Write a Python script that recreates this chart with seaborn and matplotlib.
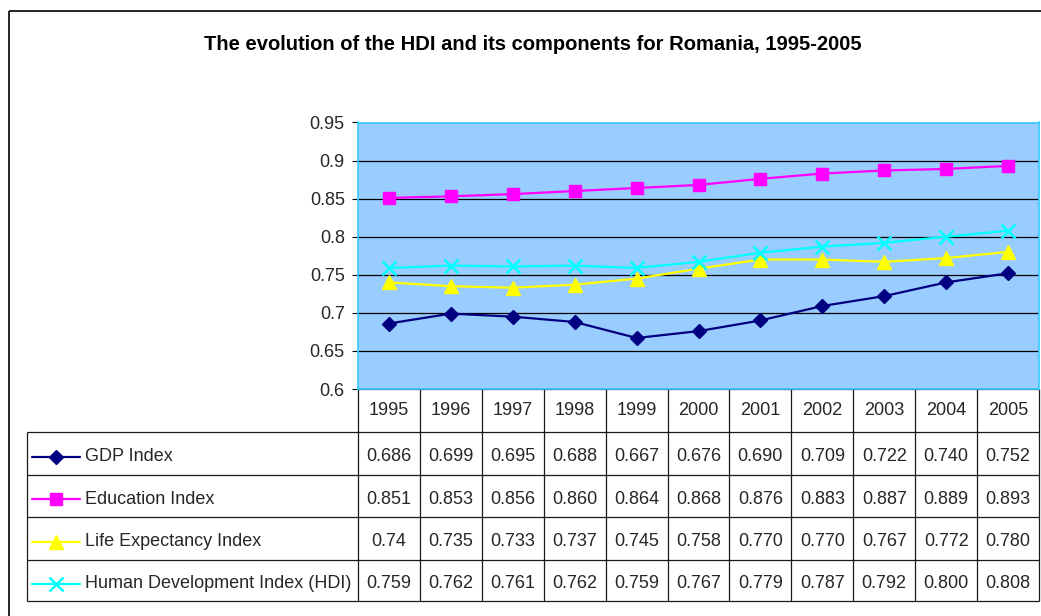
import numpy as np
import pandas as pd
import seaborn as sns
import matplotlib.pyplot as plt
from matplotlib.patches import Rectangle

years = ["1995", "1996", "1997", "1998", "1999", "2000", "2001", "2002", "2003", "2004", "2005"]
gdp_txt = ["0.686", "0.699", "0.695", "0.688", "0.667", "0.676", "0.690", "0.709", "0.722", "0.740", "0.752"]
edu_txt = ["0.851", "0.853", "0.856", "0.860", "0.864", "0.868", "0.876", "0.883", "0.887", "0.889", "0.893"]
life_txt = ["0.74", "0.735", "0.733", "0.737", "0.745", "0.758", "0.770", "0.770", "0.767", "0.772", "0.780"]
hdi_txt = ["0.759", "0.762", "0.761", "0.762", "0.759", "0.767", "0.779", "0.787", "0.792", "0.800", "0.808"]
series_names = ["GDP Index", "Education Index", "Life Expectancy Index", "Human Development Index (HDI)"]
y_ticks = [0.6, 0.65, 0.7, 0.75, 0.8, 0.85, 0.9, 0.95]
y_tick_labels = ["0.6", "0.65", "0.7", "0.75", "0.8", "0.85", "0.9", "0.95"]
title = "The evolution of the HDI and its components for Romania, 1995-2005"

series_txt = [gdp_txt, edu_txt, life_txt, hdi_txt]
colors = ["#000080", "#FF00FF", "#FFFF00", "#00FFFF"]
markers = ["D", "s", "^", "x"]
msizes = [7.5, 8, 10, 10]

sns.set_style("white")
plt.rcParams["font.family"] = ["Liberation Sans", "DejaVu Sans"]

W, H = 1041, 616
fig = plt.figure(figsize=(W / 100, H / 100), dpi=100)

# plot area (pixel layout)
px_left, px_right, px_top, px_bot = 358, 1039, 122.5, 389
ax = fig.add_axes([px_left / W, 1 - px_bot / H, (px_right - px_left) / W, (px_bot - px_top) / H])
ax.set_facecolor("#99CCFF")

n = len(years)
x = np.arange(n)
for txt, c, m, ms in zip(series_txt, colors, markers, msizes):
    vals = [float(v) for v in txt]
    sns.lineplot(x=x, y=vals, ax=ax, color=c, marker=m, markersize=ms,
                 markeredgecolor=c, markeredgewidth=1.8 if m == "x" else 1,
                 linewidth=1.6, legend=False, zorder=3)

ax.set_xlim(-0.5, n - 0.5)
ax.set_ylim(0.6, 0.95)
ax.set_yticks(y_ticks)
ax.set_yticklabels(y_tick_labels)
ax.set_xticks([])
ax.set_xlabel("")
ax.set_ylabel("")
ax.yaxis.grid(True, color="black", linewidth=0.9)
ax.set_axisbelow(True)
ax.tick_params(axis="y", length=4.5, width=0.8, color="black", pad=5, labelsize=13, left=True)
for s in ax.spines.values():
    s.set_color("#33CCFF")
    s.set_linewidth(1.2)

fig.text(533 / W, 1 - 45 / H, title, ha="center", va="center", fontsize=14.5, fontweight="bold",
         color="black")

# data table drawn in pixel coords
tab = fig.add_axes([0, 0, 1, 1], zorder=-1)
tab.set_xlim(0, W)
tab.set_ylim(H, 0)
tab.set_axis_off()

tab.add_patch(Rectangle((8.5, 10.5), 1200, 800, fill=False, edgecolor="black", lw=1.2))

row_edges = [389, 432, 475, 517, 560, 601]
lab_left = 27
cw = (px_right - px_left) / n
lc = "#1a1a1a"
for k in range(n + 1):
    tab.vlines(px_left + k * cw, row_edges[0], row_edges[-1], color=lc, lw=0.9)
tab.vlines(lab_left, row_edges[1], row_edges[-1], color=lc, lw=0.9)
tab.hlines(row_edges[0], px_left, px_right, color=lc, lw=0.9)
for y in row_edges[1:]:
    tab.hlines(y, lab_left, px_right, color=lc, lw=0.9)

yc = (row_edges[0] + row_edges[1]) / 2
for k, yr in enumerate(years):
    tab.text(px_left + (k + 0.5) * cw, yc, yr, ha="center", va="center", fontsize=13)

for r, (name, txt, c, m, ms) in enumerate(zip(series_names, series_txt, colors, markers, msizes)):
    yc = (row_edges[r + 1] + row_edges[r + 2]) / 2
    ty = yc + 3
    tab.plot([32, 80], [ty, ty], color=c, lw=1.6)
    tab.plot([56], [ty], marker=m, markersize=ms, color=c, markeredgecolor=c,
             markeredgewidth=1.8 if m == "x" else 1)
    tab.text(85, ty, name, ha="left", va="center", fontsize=13)
    for k, v in enumerate(txt):
        tab.text(px_left + (k + 0.5) * cw, ty, v, ha="center", va="center", fontsize=13)

fig.savefig("out.png", dpi=100)
